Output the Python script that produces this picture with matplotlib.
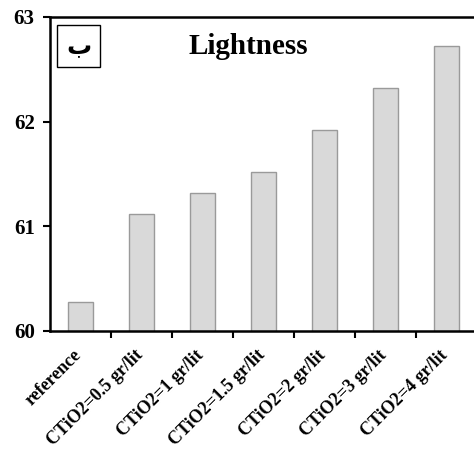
import matplotlib.pyplot as plt
from matplotlib.patches import Rectangle
import numpy as np

categories = ['reference', 'CTiO2=0.5 gr/lit', 'CTiO2=1 gr/lit', 'CTiO2=1.5 gr/lit',
              'CTiO2=2 gr/lit', 'CTiO2=3 gr/lit', 'CTiO2=4 gr/lit']
lightness = [60.28, 61.12, 61.32, 61.52, 61.92, 62.32, 62.72]
yticks = [60, 61, 62, 63]

plt.rcParams['font.family'] = 'Liberation Serif'
plt.rcParams['font.weight'] = 'bold'

fig = plt.figure(figsize=(4.74, 4.51), dpi=100)
ax = fig.add_axes([50/474, 120/451, 427/474, 314/451])

x = np.arange(len(categories))
ax.bar(x, lightness, width=0.42, color='#d9d9d9', edgecolor='#9a9a9a', linewidth=1.0)

ax.set_ylim(60, 63)
ax.set_xlim(-0.5, len(categories) - 0.5)
ax.set_yticks(yticks)
ax.set_yticklabels([str(v) for v in yticks], fontsize=15, fontweight='bold')

# ticks between the categories, labels under the bars
ax.set_xticks(x[:-1] + 0.5)
ax.set_xticklabels([])
for xi, lab in zip(x, categories):
    ax.text(xi - 0.12, 59.85, lab, rotation=45, ha='right', va='top', rotation_mode='anchor',
            fontsize=13, fontweight='bold')

ax.tick_params(axis='both', direction='out', length=5, width=1.5)
ax.tick_params(axis='y', pad=6)
for side in ['left', 'bottom', 'top']:
    ax.spines[side].set_linewidth(1.8)
ax.spines['right'].set_visible(False)

ax.text(0.465, 0.905, 'Lightness', transform=ax.transAxes, ha='center', va='center',
        fontsize=21, fontweight='bold')

# panel letter in a box
ax.add_patch(Rectangle((0.0164, 0.841), 0.1007, 0.134, transform=ax.transAxes,
                       facecolor='white', edgecolor='black', linewidth=1.0))
ax.text(0.067, 0.905, 'ب', transform=ax.transAxes, ha='center', va='center',
        fontsize=18, family='DejaVu Sans')

fig.savefig('out.png', dpi=100)
